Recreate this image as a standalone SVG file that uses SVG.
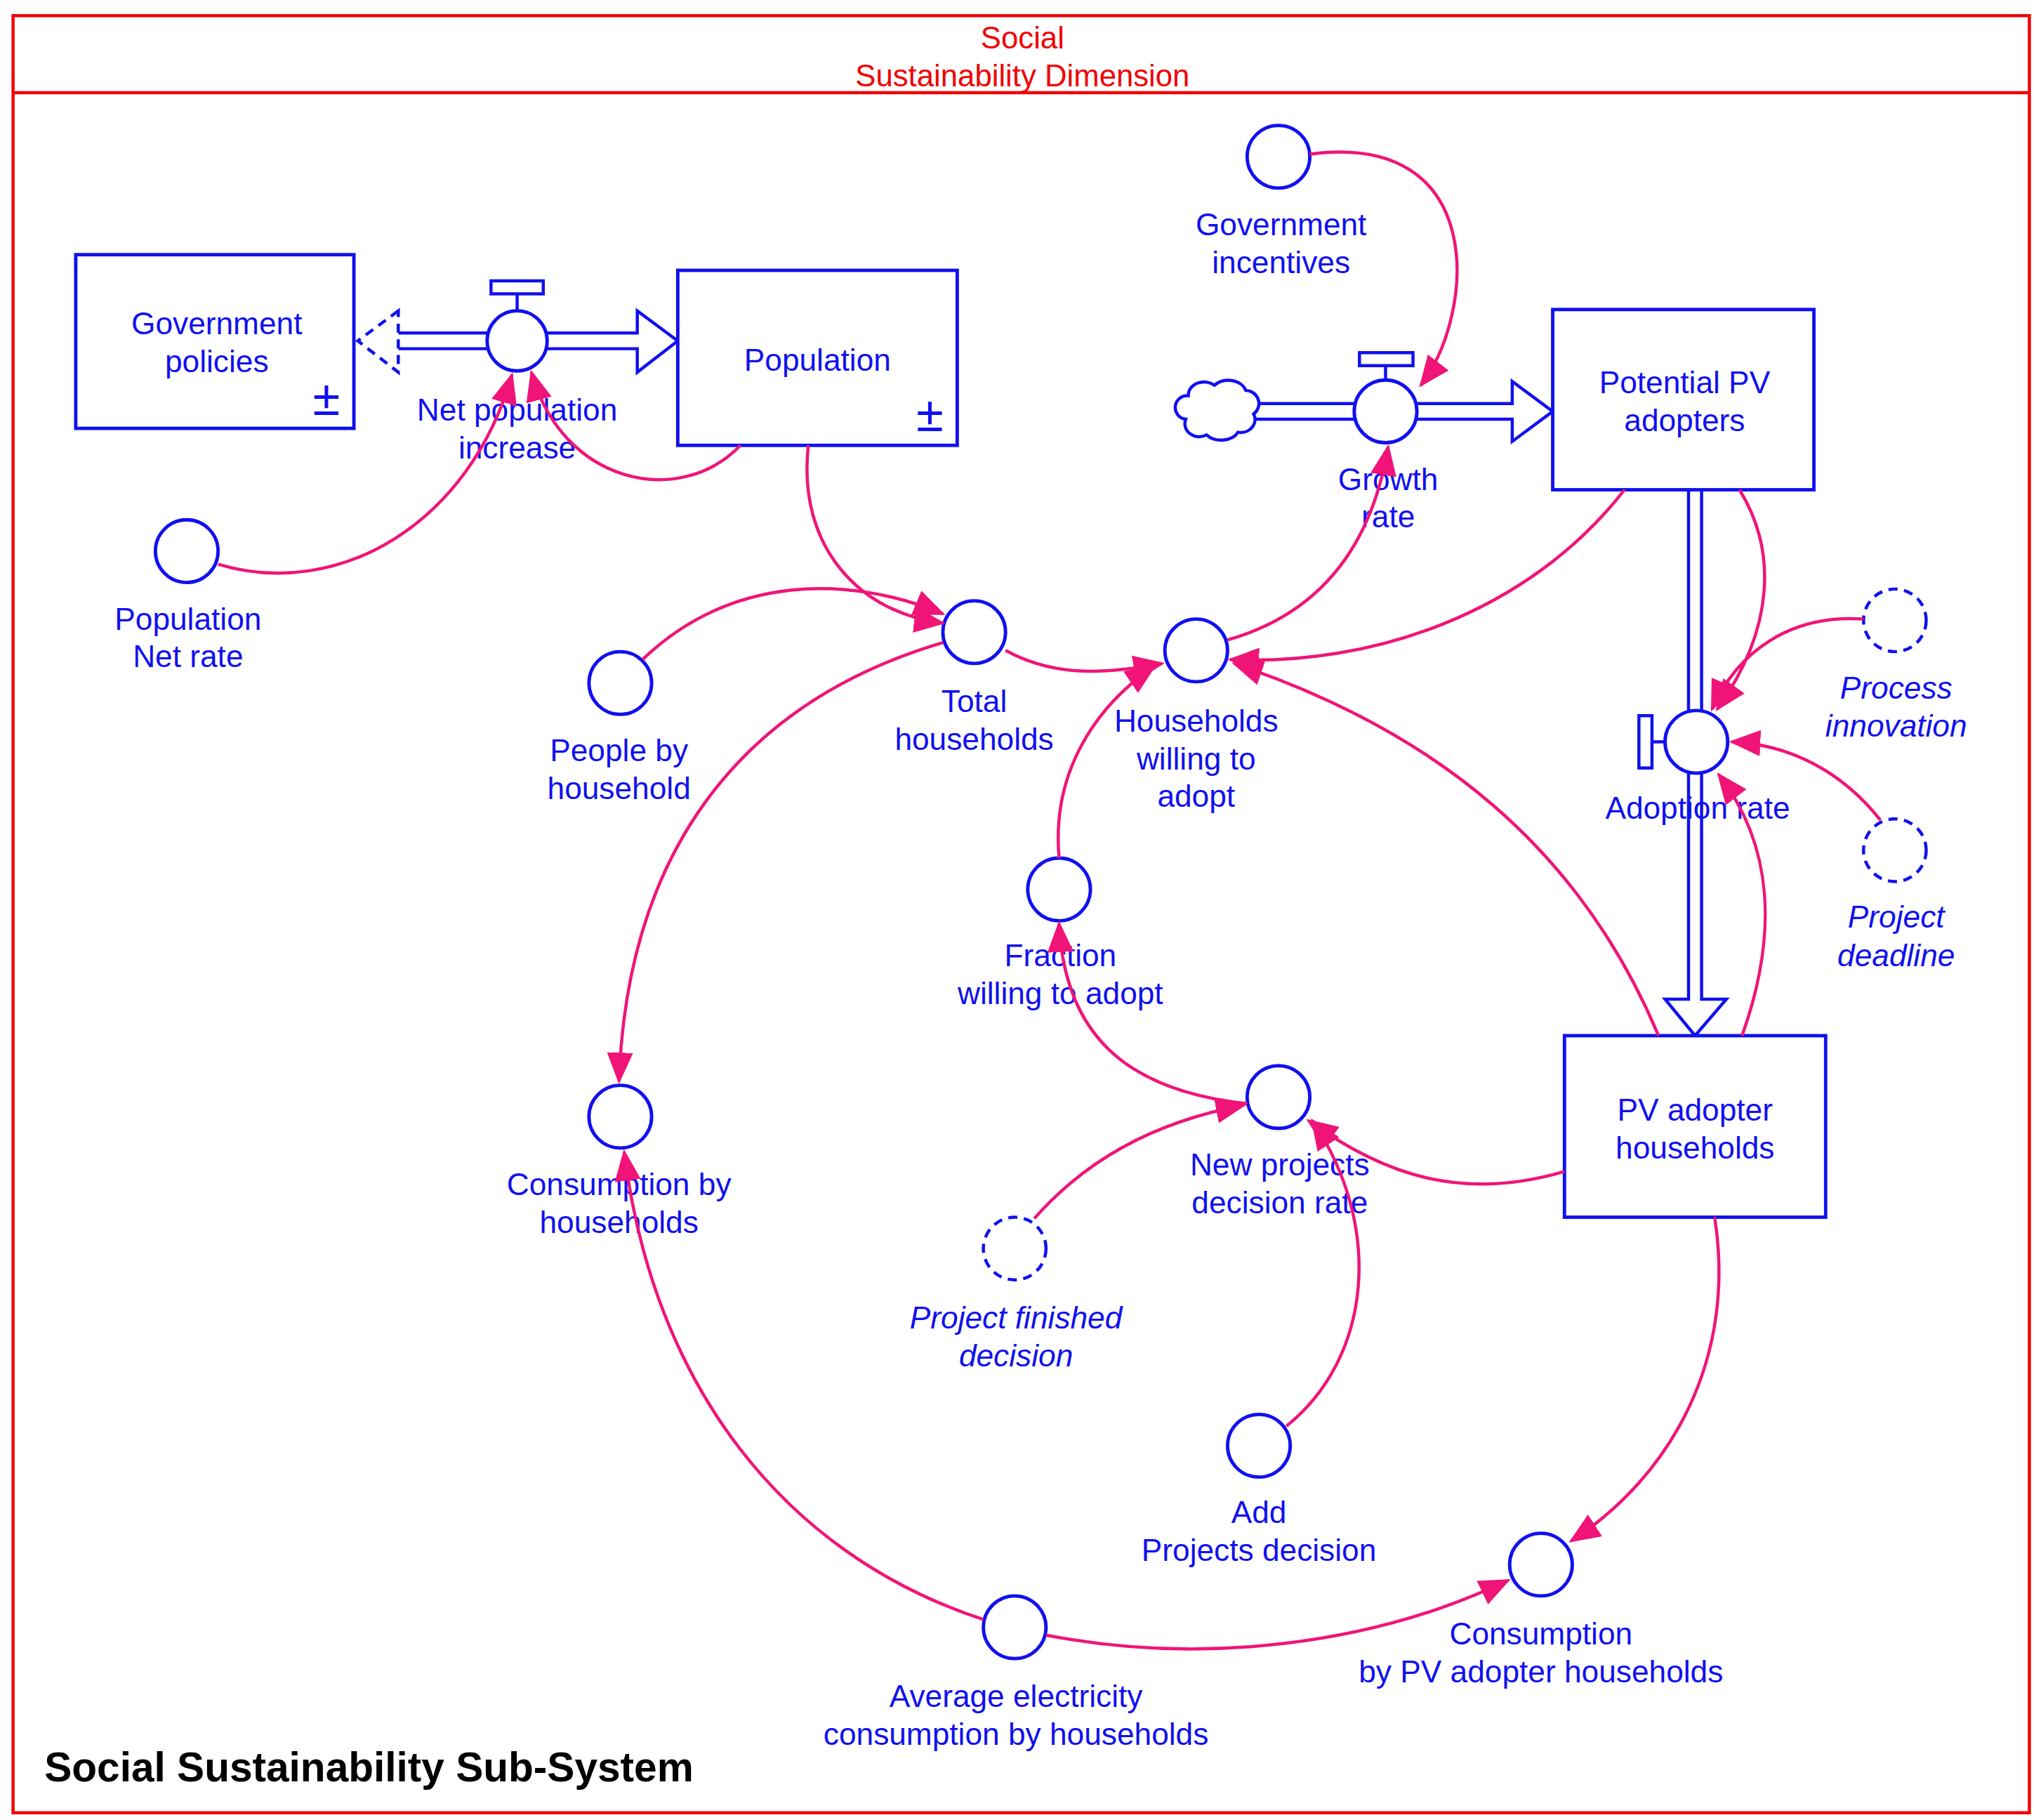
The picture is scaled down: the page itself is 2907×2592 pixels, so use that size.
<svg xmlns="http://www.w3.org/2000/svg" width="2907" height="2592" viewBox="0 0 2907 2592">
<defs>
<style>
.b{fill:#fff;stroke:#1010f0;stroke-width:2.6}
.d{fill:#fff;stroke:#1010f0;stroke-width:2.4;stroke-dasharray:7 5}
.l{fill:none;stroke:#f01478;stroke-width:2.4;marker-end:url(#ah)}
.t{font-family:"Liberation Sans",Arial,sans-serif;font-size:23.8px;fill:#1010f0;text-anchor:middle}
.i{font-style:italic}
.r{font-family:"Liberation Sans",Arial,sans-serif;font-size:23.5px;fill:#f00000;text-anchor:middle}
.p{fill:#fff;stroke:#1010f0;stroke-width:2.4}
.pm{font-family:"Liberation Sans",Arial,sans-serif;font-size:38px;fill:#1010f0;text-anchor:middle}
</style>
<marker id="ah" markerUnits="userSpaceOnUse" markerWidth="24" markerHeight="20" viewBox="0 0 24 20" refX="22" refY="10" orient="auto"><path d="M0,0 L24,10 L0,20 Z" fill="#f01478"/></marker>
</defs>
<rect width="2907" height="2592" fill="#fff"/>
<g transform="scale(1.86)">
<g id="frame">
<rect x="10" y="12" width="1544" height="1376" fill="none" stroke="#f00000" stroke-width="2.4"/>
<line x1="10" y1="71" x2="1554" y2="71" stroke="#f00000" stroke-width="2.4"/>
<text class="r" x="783" y="37">Social</text>
<text class="r" x="783" y="66">Sustainability Dimension</text>
<text x="34" y="1364" font-family="'Liberation Sans',Arial,sans-serif" font-size="31.5" font-weight="bold" fill="#000">Social Sustainability Sub-System</text>
</g>
<g id="flows">
<path class="p" d="M305,255 H488 V238 L519,261 L488,285 V267 H305"/>
<path class="d" d="M305,238 L274,261 L305,285 Z" stroke-dasharray="6 4"/>
<path class="p" d="M960,309 H1158 V292 L1189,315 L1158,338 V321 H960"/>
<path class="p" d="M1293,375 V765 H1275 L1298,793 L1322,765 H1303 V375"/>
<path class="p" d="M910,303 a12,10 0 0 1 20,-8 a14,11 0 0 1 24,4 a10,10 0 0 1 6,18 a11,10 0 0 1 -12,14 a14,10 0 0 1 -24,2 a11,10 0 0 1 -16,-12 a9,9 0 0 1 2,-18 z"/>
</g>
<g id="population-box"><rect class="b" x="519" y="207" width="214" height="134"/><text class="t" x="626" y="284">Population</text><text class="pm" x="712" y="330">±</text></g>
<g id="govpol-box"><rect class="b" x="58" y="195" width="213" height="133"/><text class="t" x="166" y="256">Government</text><text class="t" x="166" y="285">policies</text><text class="pm" x="250" y="318">±</text></g>
<g id="netpop-valve"><path class="p" d="M396,238 V225 M376,215 H416 V225 H376 Z"/><circle class="b" cx="396" cy="261" r="23"/><text class="t" x="396" y="322">Net population</text><text class="t" x="396" y="351">increase</text></g>
<g id="ppv-box"><rect class="b" x="1189" y="237" width="200" height="138"/><text class="t" x="1290" y="301">Potential PV</text><text class="t" x="1290" y="330">adopters</text></g>
<g id="growth-valve"><path class="p" d="M1061,291 V280 M1041,270 H1082 V280 H1041 Z"/><circle class="b" cx="1061" cy="315" r="24"/><text class="t" x="1063" y="375">Growth</text><text class="t" x="1063" y="404">rate</text></g>
<g id="adoption-valve"><path class="p" d="M1275,568 H1265 M1255,548 V588 H1265 V548 Z"/><circle class="b" cx="1299" cy="568" r="24"/><text class="t" x="1300" y="627">Adoption rate</text></g>
<g id="pva-box"><rect class="b" x="1198" y="793" width="200" height="139"/><text class="t" x="1298" y="858">PV adopter</text><text class="t" x="1298" y="887">households</text></g>
<g id="popnet"><circle class="b" cx="143" cy="422" r="24"/><text class="t" x="144" y="482">Population</text><text class="t" x="144" y="511">Net rate</text></g>
<g id="govinc"><circle class="b" cx="979" cy="120" r="24"/><text class="t" x="981" y="180">Government</text><text class="t" x="981" y="209">incentives</text></g>
<g id="totalhh"><circle class="b" cx="746" cy="484" r="24"/><text class="t" x="746" y="545">Total</text><text class="t" x="746" y="574">households</text></g>
<g id="peoplehh"><circle class="b" cx="475" cy="523" r="24"/><text class="t" x="474" y="583">People by</text><text class="t" x="474" y="612">household</text></g>
<g id="hwa"><circle class="b" cx="916" cy="498" r="24"/><text class="t" x="916" y="560">Households</text><text class="t" x="916" y="589">willing to</text><text class="t" x="916" y="618">adopt</text></g>
<g id="procinn"><circle class="d" cx="1451" cy="475" r="24"/><text class="t i" x="1452" y="535">Process</text><text class="t i" x="1452" y="564">innovation</text></g>
<g id="projdead"><circle class="d" cx="1451" cy="651" r="24"/><text class="t i" x="1452" y="710">Project</text><text class="t i" x="1452" y="740">deadline</text></g>
<g id="fraction"><circle class="b" cx="811" cy="681" r="24"/><text class="t" x="812" y="740">Fraction</text><text class="t" x="812" y="769">willing to adopt</text></g>
<g id="npdr"><circle class="b" cx="979" cy="840" r="24"/><text class="t" x="980" y="900">New projects</text><text class="t" x="980" y="929">decision rate</text></g>
<g id="pfd"><circle class="d" cx="777" cy="956" r="24"/><text class="t i" x="778" y="1017">Project finished</text><text class="t i" x="778" y="1046">decision</text></g>
<g id="cbh"><circle class="b" cx="475" cy="855" r="24"/><text class="t" x="474" y="915">Consumption by</text><text class="t" x="474" y="944">households</text></g>
<g id="addpd"><circle class="b" cx="964" cy="1107" r="24"/><text class="t" x="964" y="1166">Add</text><text class="t" x="964" y="1195">Projects decision</text></g>
<g id="avgel"><circle class="b" cx="777" cy="1246" r="24"/><text class="t" x="778" y="1307">Average electricity</text><text class="t" x="778" y="1336">consumption by households</text></g>
<g id="cpv"><circle class="b" cx="1180" cy="1198" r="24"/><text class="t" x="1180" y="1259">Consumption</text><text class="t" x="1180" y="1288">by PV adopter households</text></g>
<g id="connectors">
<path class="l" d="M167,432 C260,460 360,400 392,287"/>
<path class="l" d="M567,341 C520,390 430,370 407,285"/>
<path class="l" d="M1003,118 C1140,100 1130,240 1088,295"/>
<path class="l" d="M619,341 C610,420 660,470 722,477"/>
<path class="l" d="M492,505 C560,440 650,440 722,470"/>
<path class="l" d="M770,498 C810,520 850,515 890,508"/>
<path class="l" d="M1244,375 C1170,470 1050,510 942,505"/>
<path class="l" d="M940,490 C1010,470 1050,420 1063,342"/>
<path class="l" d="M1427,474 C1370,470 1330,500 1311,543"/>
<path class="l" d="M1440,628 C1410,590 1370,570 1326,568"/>
<path class="l" d="M1332,375 C1360,420 1360,480 1315,543"/>
<path class="l" d="M1334,793 C1360,720 1360,650 1316,593"/>
<path class="l" d="M1270,793 C1210,650 1100,560 945,508"/>
<path class="l" d="M811,657 C805,590 840,540 884,510"/>
<path class="l" d="M955,845 C860,835 815,790 811,707"/>
<path class="l" d="M792,933 C830,890 880,860 953,846"/>
<path class="l" d="M1198,897 C1120,920 1060,900 1002,858"/>
<path class="l" d="M985,1092 C1050,1040 1060,940 1005,858"/>
<path class="l" d="M722,492 C560,540 480,660 474,828"/>
<path class="l" d="M753,1240 C600,1190 500,1060 478,882"/>
<path class="l" d="M801,1252 C920,1275 1050,1260 1155,1210"/>
<path class="l" d="M1313,932 C1330,1040 1280,1130 1203,1180"/>
</g>
</g>
</svg>
